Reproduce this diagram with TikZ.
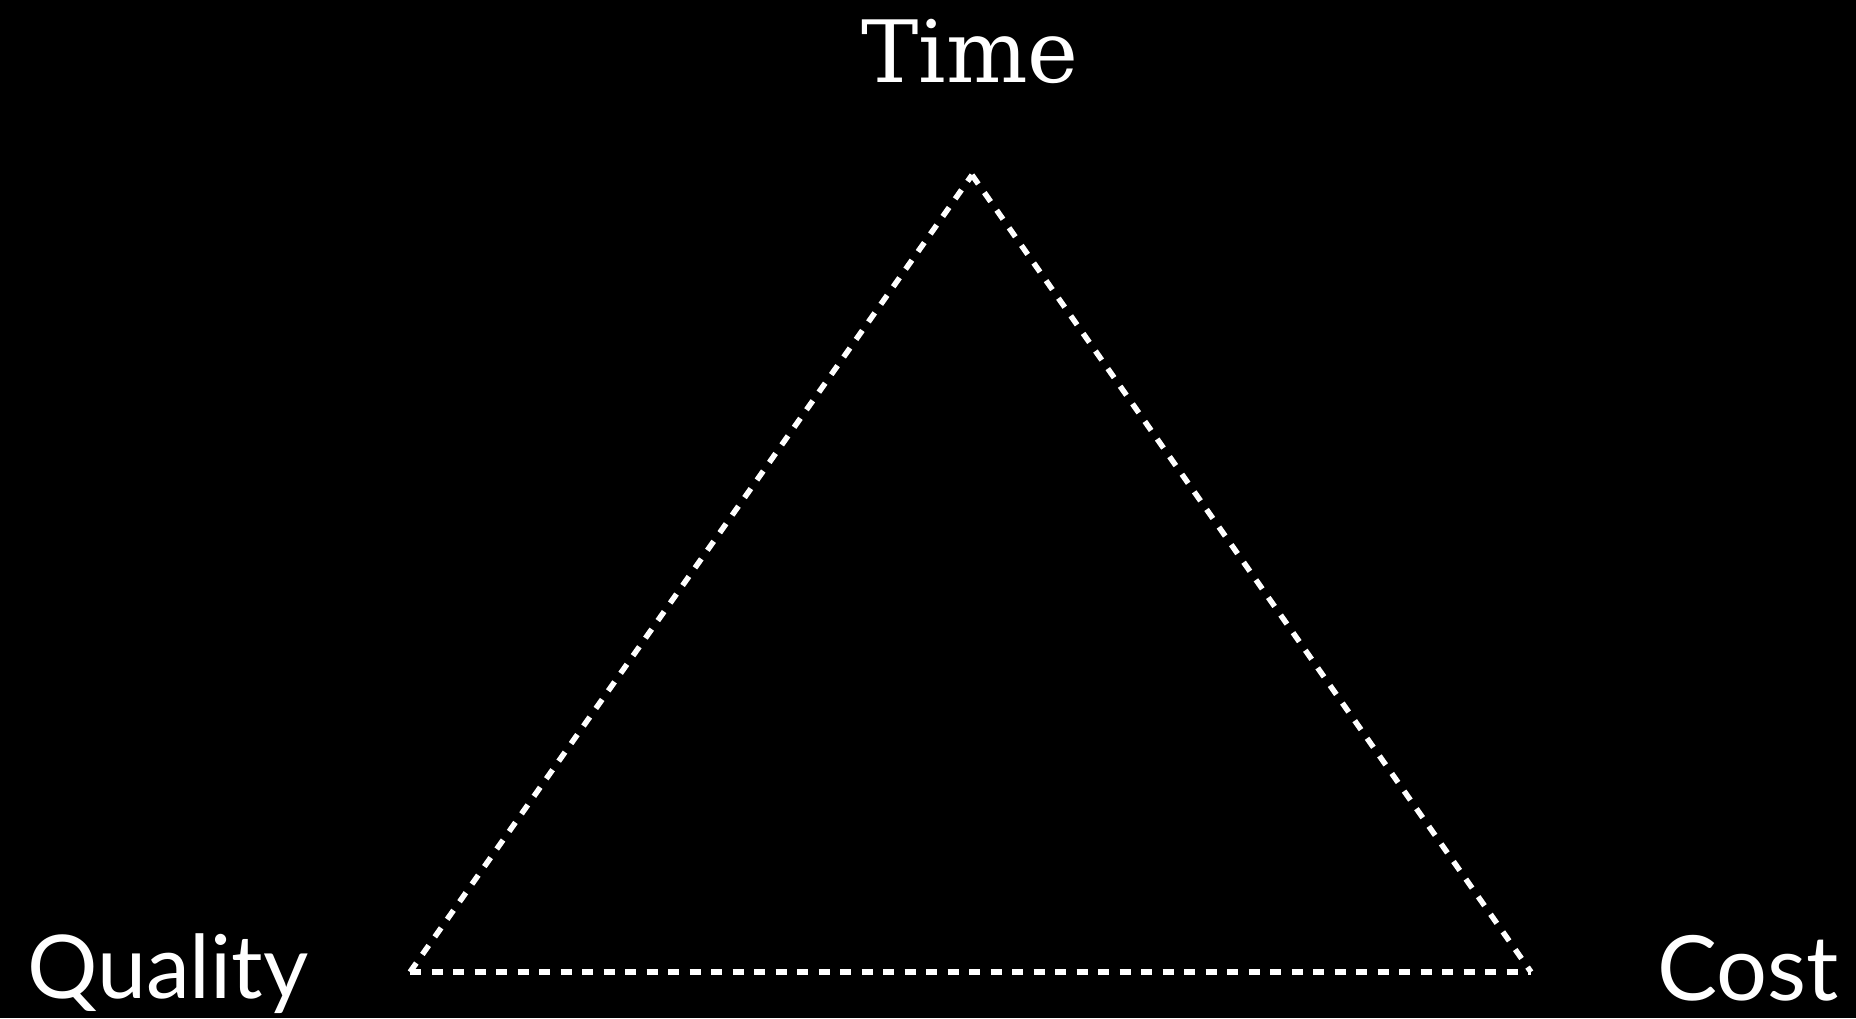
\documentclass[tikz,border=0pt]{standalone}
\usepackage{fontspec}
\newfontfamily\slabfont{DejaVu Serif}
\newfontfamily\gillfont{Lato}
\tikzset{
    edge/.style={white, line width=5.5pt, dash pattern=on 11pt off 10.5pt},
    label/.style={white, inner sep=0pt}
}
\begin{document}
\begin{tikzpicture}[x=1pt, y=-1pt]

    % 1. Nền đen
    \fill[black] (0, 0) rectangle (1856, 1018);
    \useasboundingbox (0, 0) rectangle (1856, 1018);

    % 2. Các đỉnh tam giác
    \coordinate (top) at (972, 175);
    \coordinate (left) at (410, 972);
    \coordinate (right) at (1531, 972);

    % 3. Các cạnh nét đứt
    \draw[edge] (left) -- (top);
    \draw[edge] (top) -- (right);
    \draw[edge] (left) -- (right);

    % 4. Nhãn
    \node[label, anchor=base] (time) at (970, 82) {\slabfont\fontsize{86}{90}\selectfont Time};
    \node[label, anchor=base west] (quality) at (27, 998) {\gillfont\fontsize{88}{96}\selectfont Quality};
    \node[label, anchor=base west] (cost) at (1657, 1000) {\gillfont\fontsize{90}{96}\selectfont Cost};

\end{tikzpicture}
\end{document}
